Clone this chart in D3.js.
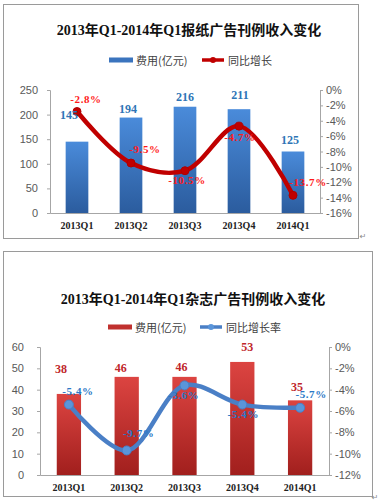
<!DOCTYPE html>
<html><head><meta charset="utf-8">
<script src="https://cdn.jsdelivr.net/npm/d3@7"></script>
<style>
html,body{margin:0;padding:0;background:#fff;}
svg{display:block;}
</style>
</head><body>
<svg id="c" width="379" height="504"></svg>
<script>
// ---- data ----
const quarters = ["2013Q1","2013Q2","2013Q3","2013Q4","2014Q1"];
const newspaperSpend = [145,194,216,211,125];
const newspaperGrowth = [-2.8,-9.5,-10.5,-4.7,-13.7];
const magazineSpend = [38,46,46,53,35];
const magazineGrowth = [-5.4,-9.7,-3.6,-5.4,-5.7];
const spendTicks1 = [0,50,100,150,200,250];
const growthTicks1 = [0,-2,-4,-6,-8,-10,-12,-14,-16];
const spendTicks2 = [0,10,20,30,40,50,60];
const growthTicks2 = [0,-2,-4,-6,-8,-10,-12];
const title1 = "2013年Q1-2014年Q1报纸广告刊例收入变化";
const title2 = "2013年Q1-2014年Q1杂志广告刊例收入变化";
const legendBar = "费用(亿元)";
const legendLine1 = "同比增长";
const legendLine2 = "同比增长率";

// manual label nudges (layout only)
const barLabelNudge1 = [[-8,-27],[-3,-9],[0,-10],[1,-14],[-3,-12]];
const lineLabelNudge1 = [[9,-13],[14,-14],[2,9],[1,11],[15,-13]];
const barLabelNudge2 = [[-8,-25],[-6,-9],[-3,-10],[5,-15],[-3,-13]];
const lineLabelNudge2 = [[9,-14],[12,-17],[-1,10],[1,9],[11,-14]];

const svg = d3.select("#c");
const defs = svg.append("defs");

function grad(id, top, bottom){
  const g = defs.append("linearGradient").attr("id",id).attr("x1",0).attr("y1",0).attr("x2",0).attr("y2",1);
  g.append("stop").attr("offset","0%").attr("stop-color",top);
  g.append("stop").attr("offset","100%").attr("stop-color",bottom);
}
grad("gBlue","#4A8BDA","#2B5C9E");
grad("gRed","#DC4441","#A11F1D");

const serif = "'Liberation Serif','Noto Sans CJK SC',serif";
const sans = "'Liberation Sans','DejaVu Sans',sans-serif";
const cjk = "'Noto Sans CJK SC',sans-serif";

function drawChart(o){
  const g = svg.append("g");
  g.append("rect").attr("x",o.frame[0]+0.5).attr("y",o.frame[1]+0.5)
    .attr("width",o.frame[2]-o.frame[0]).attr("height",o.frame[3]-o.frame[1])
    .attr("fill","#fff").attr("stroke","#9a9a9a").attr("stroke-width",1);

  g.append("text").attr("x",o.titleX).attr("y",o.titleY).attr("text-anchor","middle")
    .attr("dominant-baseline","central")
    .style("font-family",serif).style("font-weight","bold").style("font-size","14px").style("fill","#111")
    .text(o.title);

  // legend
  const ly = o.legendY;
  g.append("rect").attr("x",o.legend[0]).attr("y",ly-2.5).attr("width",24).attr("height",5).attr("fill",o.barSolid);
  g.append("text").attr("x",o.legend[0]+27).attr("y",ly).attr("dominant-baseline","central")
    .style("font-family",cjk).style("font-size","11px").style("fill","#404040").text(legendBar);
  g.append("line").attr("x1",o.legend[1]).attr("x2",o.legend[1]+22).attr("y1",ly).attr("y2",ly)
    .attr("stroke",o.lineColor).attr("stroke-width",3.5);
  g.append("circle").attr("cx",o.legend[1]+11).attr("cy",ly).attr("r",3).attr("fill",o.markerFill);
  g.append("text").attr("x",o.legend[1]+26).attr("y",ly).attr("dominant-baseline","central")
    .style("font-family",cjk).style("font-size","11px").style("fill","#404040").text(o.lineLegend);

  const x = d3.scaleBand().domain(quarters).range([o.left,o.right]).paddingInner(0.58).paddingOuter(0.29);
  const yL = d3.scaleLinear().domain([0,d3.max(o.spendTicks)]).range([o.bottom,o.top]);
  const yR = d3.scaleLinear().domain([d3.min(o.growthTicks),0]).range([o.bottom,o.top]);

  // axes
  const axL = g.append("g").attr("transform",`translate(${o.left},0)`)
    .call(d3.axisLeft(yL).tickValues(o.spendTicks).tickSize(3).tickPadding(o.leftPad));
  const axR = g.append("g").attr("transform",`translate(${o.right},0)`)
    .call(d3.axisRight(yR).tickValues(o.growthTicks).tickSize(3).tickPadding(3).tickFormat(d=>d+"%"));
  [axL,axR].forEach(a=>{
    a.select(".domain").attr("stroke","#a6a6a6");
    a.selectAll(".tick line").attr("stroke","#a6a6a6");
    a.selectAll(".tick text").style("font-family",sans).style("font-size","11px").style("fill","#595959");
  });
  const axB = g.append("g").attr("transform",`translate(0,${o.bottom})`)
    .call(d3.axisBottom(x).tickSize(0).tickPadding(9));
  axB.select(".domain").attr("stroke","#a6a6a6");
  axB.selectAll(".tick text").style("font-family",serif).style("font-weight","bold").style("font-size","10px").style("fill","#222");

  // bars
  g.append("g").selectAll("rect").data(o.spend).join("rect")
    .attr("x",(d,i)=>x(quarters[i])).attr("width",x.bandwidth())
    .attr("y",d=>yL(d)).attr("height",d=>yL(0)-yL(d)).attr("fill",o.barFill);

  // line
  const line = d3.line().x((d,i)=>x(quarters[i])+x.bandwidth()/2).y(d=>yR(d)).curve(d3.curveCatmullRom.alpha(0.5));
  g.append("path").datum(o.growth).attr("d",line).attr("fill","none")
    .attr("stroke",o.lineColor).attr("stroke-width",4.5).attr("stroke-linecap","round");
  g.append("g").selectAll("circle").data(o.growth).join("circle")
    .attr("cx",(d,i)=>x(quarters[i])+x.bandwidth()/2).attr("cy",d=>yR(d))
    .attr("r",o.markerR).attr("fill",o.markerFill).attr("stroke",o.markerStroke).attr("stroke-width",1);

  // bar labels
  g.append("g").selectAll("text").data(o.spend).join("text")
    .attr("x",(d,i)=>x(quarters[i])+x.bandwidth()/2+o.barNudge[i][0])
    .attr("y",(d,i)=>yL(d)+o.barNudge[i][1])
    .attr("text-anchor","middle").attr("dominant-baseline","central")
    .style("font-family",serif).style("font-weight","bold").style("font-size","12px").style("fill",o.barLabelColor)
    .text(d=>d);
  // line labels
  g.append("g").selectAll("text").data(o.growth).join("text")
    .attr("x",(d,i)=>x(quarters[i])+x.bandwidth()/2+o.lineNudge[i][0])
    .attr("y",(d,i)=>yR(d)+o.lineNudge[i][1])
    .attr("text-anchor","middle").attr("dominant-baseline","central")
    .style("font-family",serif).style("font-weight","bold").style("font-size","11px").style("letter-spacing","0.6px").style("fill",o.lineLabelColor)
    .text(d=>d.toFixed(1)+"%");

  g.append("text").attr("x",o.mark[0]).attr("y",o.mark[1]).attr("text-anchor","middle").attr("dominant-baseline","central")
    .style("font-family",sans).style("font-size","8px").style("fill","#888").text("↵");
}

drawChart({
  frame:[3,4,358,238], title:title1, titleX:189, titleY:30, legendY:60, legend:[109,202],
  lineLegend:legendLine1, left:50, right:320, top:90, bottom:213, leftPad:9,
  spendTicks:spendTicks1, growthTicks:growthTicks1, spend:newspaperSpend, growth:newspaperGrowth,
  barFill:"url(#gBlue)", barSolid:"#3B74BE", lineColor:"#C00000", markerFill:"#C00000", markerStroke:"#B00000", markerR:4,
  barLabelColor:"#2E75B6", lineLabelColor:"#FF1A1A", barNudge:barLabelNudge1, lineNudge:lineLabelNudge1, mark:[363,236]
});
drawChart({
  frame:[3,251,372,496], title:title2, titleX:193, titleY:299, legendY:327, legend:[108,200],
  lineLegend:legendLine2, left:40, right:329, top:347, bottom:475, leftPad:13,
  spendTicks:spendTicks2, growthTicks:growthTicks2, spend:magazineSpend, growth:magazineGrowth,
  barFill:"url(#gRed)", barSolid:"#C0312E", lineColor:"#4A7FC6", markerFill:"#5A95DA", markerStroke:"#4A7FC6", markerR:4.5,
  barLabelColor:"#C0262B", lineLabelColor:"#2A78C6", barNudge:barLabelNudge2, lineNudge:lineLabelNudge2, mark:[375,497]
});
</script>
</body></html>
